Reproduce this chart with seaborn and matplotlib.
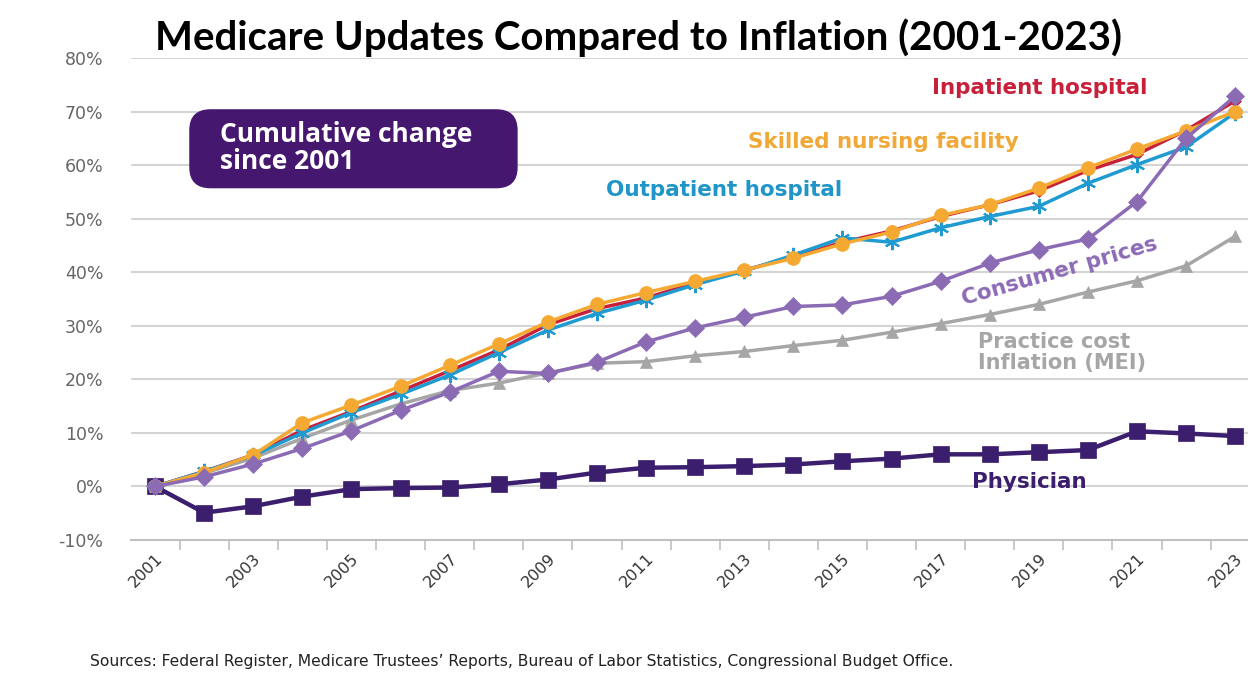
import numpy as np
import pandas as pd
import matplotlib
matplotlib.use("Agg")
import matplotlib.pyplot as plt
from matplotlib.patches import FancyBboxPatch
import seaborn as sns

years = list(range(2001, 2024))
physician = [0, -4.9, -3.7, -1.9, -0.5, -0.3, -0.2, 0.4, 1.3, 2.6, 3.5, 3.6, 3.8, 4.1,
             4.7, 5.2, 6.0, 6.0, 6.4, 6.8, 10.3, 9.9, 9.4]
consumer = [0, 1.8, 4.2, 7.1, 10.4, 14.2, 17.6, 21.5, 21.1, 23.2, 27.0, 29.6, 31.6, 33.6,
            33.9, 35.5, 38.3, 41.7, 44.2, 46.2, 53.2, 65.0, 72.9]
mei = [0, 2.5, 5.3, 9.0, 12.4, 15.4, 17.9, 19.3, 21.2, 23.0, 23.3, 24.4, 25.2, 26.3,
       27.3, 28.8, 30.4, 32.1, 34.0, 36.3, 38.4, 41.2, 46.7]
outpatient = [0, 2.8, 5.8, 10.0, 13.8, 17.2, 20.8, 25.0, 29.2, 32.3, 34.8, 37.7, 40.2, 43.2,
              46.4, 45.6, 48.3, 50.4, 52.3, 56.6, 60.1, 63.4, 69.8]
snf = [0, 2.6, 5.9, 11.9, 15.2, 18.7, 22.6, 26.6, 30.7, 34.0, 36.2, 38.3, 40.4, 42.6,
       45.3, 47.5, 50.6, 52.6, 55.7, 59.5, 63.0, 66.4, 70.0]
inpatient = [0, 2.8, 5.9, 10.5, 14.0, 17.8, 21.6, 25.5, 30.2, 33.2, 35.2, 38.0, 40.4, 42.8,
             45.6, 47.7, 50.4, 52.6, 55.2, 59.0, 62.0, 66.5, 72.0]

y_ticks = [-10, 0, 10, 20, 30, 40, 50, 60, 70, 80]
y_labels = [f"{v}%" for v in y_ticks]
x_ticks = list(range(2001, 2024, 2))

title = "Medicare Updates Compared to Inflation (2001-2023)"
source = ("Sources: Federal Register, Medicare Trustees\u2019 Reports, Bureau of Labor "
          "Statistics, Congressional Budget Office.")

sns.set_theme(style="white")
plt.rcParams['font.family'] = ['DejaVu Sans']

fig = plt.figure(figsize=(12.48, 6.78), dpi=100)
ax = fig.add_axes([0.105, 0.2035, 0.895, 0.711])

# gridlines
for v in y_ticks[1:]:
    ax.axhline(v, color="#d4d4d4", lw=1.5, zorder=0)

series = [
    ("Physician", physician, "#3b1f6e", "s", 11, 3.2),
    ("MEI", mei, "#a6a6a6", "^", 9, 2.5),
    ("Inpatient", inpatient, "#c8203a", "D", 6, 2.5),
    ("Outpatient", outpatient, "#1f9bd1", (6, 2, 0), 11, 2.5),
    ("SNF", snf, "#f5a933", "o", 10, 2.5),
    ("Consumer", consumer, "#8c6bb5", "D", 9.5, 2.5),
]
for name, vals, col, mk, ms, lw in series:
    df = pd.DataFrame({"year": years, "val": vals})
    sns.lineplot(data=df, x="year", y="val", ax=ax, color=col, lw=lw, marker=mk,
                 markersize=ms, markeredgecolor=col,
                 markeredgewidth=1.5 if mk == (6, 2, 0) else 0.5, zorder=3)

ax.set_xlim(2000.51, 2023.26)
ax.set_ylim(-10, 80)
ax.set_yticks(y_ticks)
ax.set_yticklabels(y_labels, color="#666666", fontsize=12.5)
ax.tick_params(axis="y", length=0, pad=20)
ax.set_xticks(x_ticks)
ax.set_xticklabels([str(x) for x in x_ticks], rotation=45, ha="right",
                   rotation_mode="anchor", color="#333333", fontsize=11.5)
ax.set_xticks([y + 0.5 for y in range(2001, 2023)], minor=True)
ax.tick_params(axis="x", which="major", length=0, pad=8)
ax.tick_params(axis="x", which="minor", length=7, width=1.2, color="#bfbfbf", bottom=True)
ax.set_xlabel("")
ax.set_ylabel("")
for s in ["top", "right", "left"]:
    ax.spines[s].set_visible(False)
ax.spines["bottom"].set_color("#bfbfbf")
ax.spines["bottom"].set_linewidth(1.5)

# series labels
lab = dict(fontweight="bold", va="center", ha="left", fontsize=15.5)
ax.text(2016.82, 74.4, "Inpatient hospital", color="#c8203a", **lab)
ax.text(2013.08, 64.4, "Skilled nursing facility", color="#f0a838", **lab)
ax.text(2010.19, 55.4, "Outpatient hospital", color="#1f95c8", **lab)
ax.text(2019.43, 40.1, "Consumer prices", color="#8c6bb5", fontsize=15.5,
        fontweight="bold", va="center", ha="center", rotation=16, rotation_mode="anchor")
ax.text(2017.76, 25.0, "Practice cost\nInflation (MEI)", color="#a6a6a6", fontsize=15,
        fontweight="bold", va="center", ha="left", linespacing=1.05)
ax.text(2017.64, 0.9, "Physician", color="#3b1f6e", **lab)

# callout box
box = FancyBboxPatch((2001.71, 55.8), 6.66, 14.5,
                     boxstyle="round,pad=0,rounding_size=0.42", mutation_aspect=9.0,
                     fc="#45176f", ec="#45176f", zorder=4)
ax.add_patch(box)
ax.text(2002.32, 63.2, "Cumulative change\nsince 2001", color="white", fontsize=19,
        fontweight="bold", va="center", ha="left", linespacing=1.0, zorder=5,
        family=["Open Sans", "DejaVu Sans"])

fig.text(0.512, 0.945, title, ha="center", va="center", fontsize=29,
         fontweight="bold", color="black", family=["Lato", "DejaVu Sans"])
fig.text(0.072, 0.025, source, ha="left", va="center", fontsize=11.2, color="#222222")

fig.savefig("out.png", dpi=100, facecolor="white")
